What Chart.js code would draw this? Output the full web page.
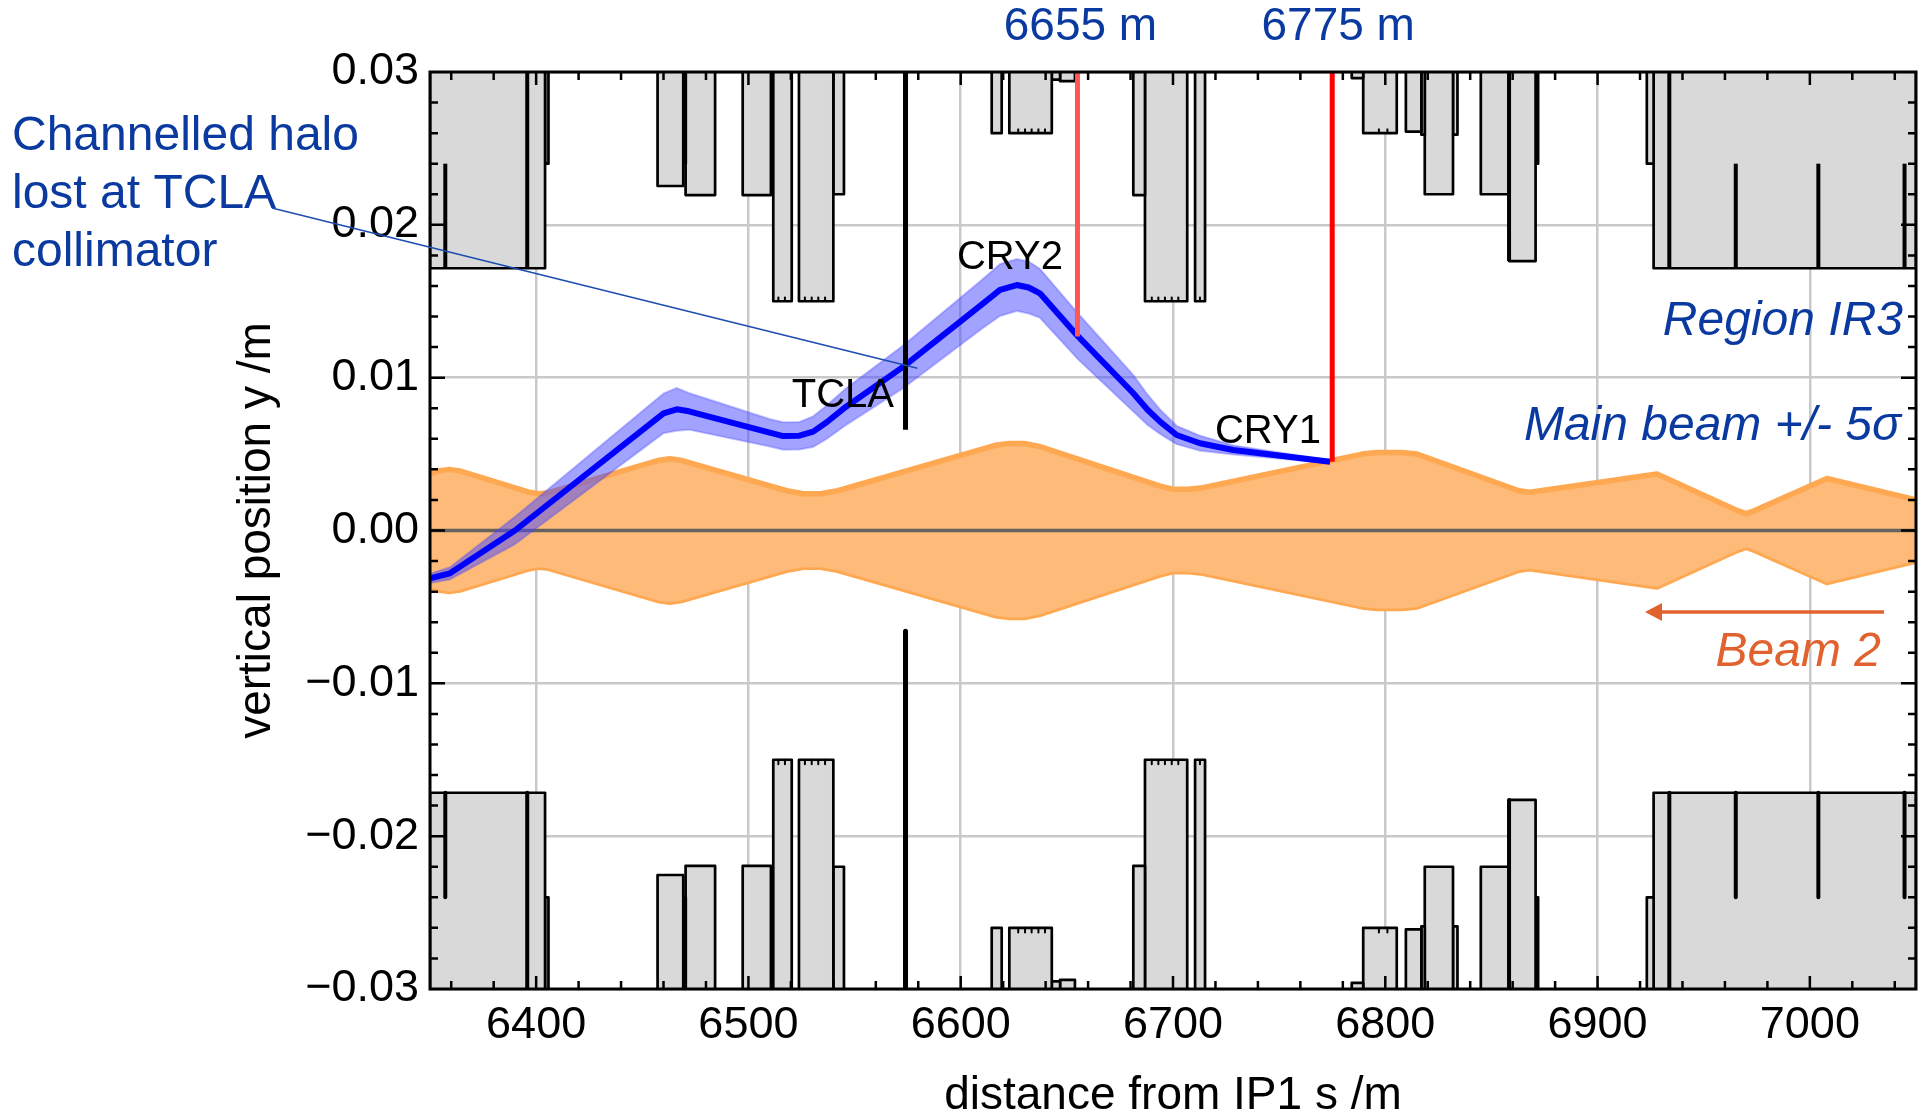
<!DOCTYPE html>
<html><head><meta charset="utf-8">
<script src="https://cdn.jsdelivr.net/npm/chart.js@4.4.1/dist/chart.umd.min.js"></script>
<style>html,body{margin:0;padding:0;background:#fff;}#wrap{width:1919px;height:1117px;position:relative;}</style>
</head><body><div id="wrap"><canvas id="c" width="1919" height="1117"></canvas></div>
<script>
// ---- tick labels ----
const xTicks = [6400, 6500, 6600, 6700, 6800, 6900, 7000];
const yTicks = [-0.03, -0.02, -0.01, 0, 0.01, 0.02, 0.03];

// ---- machine aperture elements (symmetric, half-height in m) ----
const apStart = [6350, 6404.2, 6457.2, 6469.3, 6470.4, 6497.3, 6511.7, 6523.8, 6540.0, 6614.6, 6622.9, 6642.9, 6646.8, 6681.3, 6686.8, 6710.4, 6784.2, 6789.6, 6809.7, 6817.0, 6818.6, 6831.9, 6845.0, 6858.3, 6870.8, 6923.2, 6926.4];
const apEnd   = [6404.2, 6405.8, 6469.3, 6470.5, 6484.3, 6510.6, 6520.4, 6540.0, 6545.0, 6619.3, 6642.9, 6646.8, 6653.8, 6686.8, 6706.7, 6715.1, 6789.6, 6805.4, 6817.0, 6818.6, 6831.9, 6834.0, 6858.3, 6870.8, 6872.0, 6926.4, 7050];
const apHalf  = [0.01716, 0.0240, 0.02254, 0.0240, 0.02195, 0.02195, 0.0150, 0.0150, 0.0220, 0.0260, 0.0260, 0.0295, 0.0294, 0.02195, 0.0150, 0.0150, 0.0296, 0.0260, 0.0261, 0.0259, 0.0220, 0.0259, 0.0220, 0.01763, 0.0240, 0.0240, 0.01716];
// element boundary lines inside the aperture blocks
const sepS     = [6357.2, 6395.8, 6858.3, 6933.8, 6965.1, 7004.0, 7044.6];
const sepInner = [0.01716, 0.01716, 0.01763, 0.01716, 0.01716, 0.01716, 0.01716];
const sepOuter = [0.0240, 0.03, 0.03, 0.03, 0.0240, 0.0240, 0.0240];
// short marks of sub-elements along some aperture edges
const markS  = [6514.1, 6517.2, 6526.6, 6529.8, 6532.9, 6536.1, 6627.1, 6630.3, 6633.4, 6636.6, 6639.7, 6690.0, 6693.1, 6696.2, 6699.4, 6702.5, 6712.7, 6797.0, 6801.0];
const markAp = [0.0150, 0.0150, 0.0150, 0.0150, 0.0150, 0.0150, 0.0260, 0.0260, 0.0260, 0.0260, 0.0260, 0.0150, 0.0150, 0.0150, 0.0150, 0.0150, 0.0150, 0.0260, 0.0260];

// ---- Beam 2 envelope (+/- 5 sigma half-height) ----
const envS    = [6350, 6354, 6359, 6364, 6397, 6401, 6405, 6458, 6463, 6468, 6518, 6526, 6534, 6542, 6617, 6623, 6630, 6637, 6694, 6700, 6707, 6714, 6789, 6796, 6808, 6815, 6863, 6868, 6873, 6928, 6966, 6970, 6974, 7008, 7050];
const envHalf = [0.0037, 0.0039, 0.0040, 0.0039, 0.0025, 0.0024, 0.00245, 0.0046, 0.0047, 0.0046, 0.0026, 0.0024, 0.0024, 0.0026, 0.0056, 0.0057, 0.0057, 0.0055, 0.0029, 0.0027, 0.0027, 0.0028, 0.0050, 0.0051, 0.0051, 0.0050, 0.0026, 0.0025, 0.0026, 0.0037, 0.0013, 0.0011, 0.0013, 0.0034, 0.0020];

// ---- channelled halo trajectory ----
const haloS    = [6350, 6359.4, 6390, 6460, 6466.2, 6472, 6510, 6516.4, 6524, 6530.5, 6537, 6546, 6573, 6610, 6618.5, 6626.4, 6632, 6637.3, 6655.4, 6681.3, 6688, 6693.9, 6701.7, 6712.7, 6728.4, 6774];
const haloY    = [-0.00313, -0.0028, 0.0000, 0.00767, 0.00793, 0.0078, 0.0064, 0.00618, 0.0062, 0.00647, 0.0071, 0.0081, 0.01072, 0.0148, 0.01574, 0.01606, 0.0159, 0.01552, 0.01268, 0.00898, 0.0079, 0.00712, 0.00625, 0.00571, 0.00527, 0.0045];
const haloHalf = [0.0003, 0.0004, 0.0009, 0.0013, 0.0014, 0.0012, 0.0009, 0.0009, 0.0009, 0.0010, 0.0011, 0.0012, 0.0014, 0.0016, 0.0017, 0.0017, 0.0017, 0.0016, 0.0015, 0.0012, 0.0010, 0.0008, 0.0006, 0.0005, 0.0003, 0.0001];

// ---- collimators / crystals ----
const tclaS = 6574, tclaJaw = 0.0066;
const cry2S = 6655, cry2Y = 0.0127;
const cry1S = 6775, cry1Y = 0.0045;
const yTop = 0.03;

const FONT = '"Liberation Sans", Arial, Helvetica, sans-serif';
const BLUE_TXT = '#0a3aa0';

const datasets = [];
// aperture blocks
for (let i = 0; i < apStart.length; i++) {
  const s1 = apStart[i], s2 = apEnd[i], a = apHalf[i];
  for (const sg of [1, -1]) {
    datasets.push({data: [{x: s1, y: sg * yTop}, {x: s1, y: sg * a}, {x: s2, y: sg * a}, {x: s2, y: sg * yTop}],
      fill: sg > 0 ? 'end' : 'start', backgroundColor: '#d9d9d9', borderColor: '#000', borderWidth: 2.7, order: 20});
  }
}
for (let i = 0; i < sepS.length; i++) {
  for (const sg of [1, -1]) {
    datasets.push({data: [{x: sepS[i], y: sg * sepInner[i]}, {x: sepS[i], y: sg * sepOuter[i]}],
      fill: false, borderColor: '#000', borderWidth: 4, order: 19});
  }
}
for (let i = 0; i < markS.length; i++) {
  for (const sg of [1, -1]) {
    datasets.push({data: [{x: markS[i], y: sg * markAp[i]}, {x: markS[i], y: sg * (markAp[i] + 0.0003)}],
      fill: false, borderColor: '#000', borderWidth: 2, borderCapStyle: 'butt', order: 19});
  }
}
// beam 2 envelope
datasets.push({data: envS.map((s, i) => ({x: s, y: envHalf[i]})), fill: '+1', backgroundColor: '#fdba78', borderColor: '#ffa852', borderWidth: 5.5, order: 15});
datasets.push({data: envS.map((s, i) => ({x: s, y: -envHalf[i]})), fill: false, borderColor: '#ffa852', borderWidth: 5.5, order: 15});
// axis line at zero
datasets.push({data: [{x: 6350, y: 0}, {x: 7050, y: 0}], fill: false, borderColor: '#66625e', borderWidth: 3.5, order: 14});
// halo band
datasets.push({data: haloS.map((s, i) => ({x: s, y: haloY[i] + haloHalf[i]})), fill: '+1', backgroundColor: 'rgba(70,70,255,0.5)', borderColor: 'rgba(70,70,255,0.3)', borderWidth: 2, order: 12});
datasets.push({data: haloS.map((s, i) => ({x: s, y: haloY[i] - haloHalf[i]})), fill: false, borderColor: 'rgba(70,70,255,0.3)', borderWidth: 2, order: 12});
// halo centre
datasets.push({data: haloS.map((s, i) => ({x: s, y: haloY[i]})), fill: false, borderColor: '#0000ff', borderWidth: 6, order: 11});
// TCLA jaws
datasets.push({data: [{x: tclaS, y: tclaJaw}, {x: tclaS, y: yTop}], fill: false, borderColor: '#000', borderWidth: 5, borderCapStyle: 'butt', order: 10});
datasets.push({data: [{x: tclaS, y: -tclaJaw}, {x: tclaS, y: -yTop}], fill: false, borderColor: '#000', borderWidth: 5, borderCapStyle: 'butt', order: 10});
// crystal markers
datasets.push({data: [{x: cry2S, y: cry2Y}, {x: cry2S, y: yTop}], fill: false, borderColor: '#ff5555', borderWidth: 5, borderCapStyle: 'butt', order: 9});
datasets.push({data: [{x: cry1S, y: cry1Y}, {x: cry1S, y: yTop}], fill: false, borderColor: '#ff0000', borderWidth: 5, borderCapStyle: 'butt', order: 9});

const decor = {
  id: 'decor',
  afterDatasetsDraw(chart) {
    const {ctx, chartArea: a, scales: {x, y}} = chart;
    ctx.save();
    ctx.strokeStyle = '#000';
    ctx.lineWidth = 2.5;
    ctx.beginPath();
    for (let v = 6360; v <= 7040; v += 20) {
      const px = x.getPixelForValue(v);
      const L = (v % 100 === 0) ? 13 : 8;
      ctx.moveTo(px, a.bottom); ctx.lineTo(px, a.bottom - L);
      ctx.moveTo(px, a.top); ctx.lineTo(px, a.top + L);
    }
    for (let k = -14; k <= 14; k++) {
      const py = y.getPixelForValue(k * 0.002);
      const L = (k % 5 === 0) ? 15 : 8;
      ctx.moveTo(a.left, py); ctx.lineTo(a.left + L, py);
      ctx.moveTo(a.right, py); ctx.lineTo(a.right - L, py);
    }
    ctx.stroke();
    ctx.lineWidth = 3;
    ctx.strokeRect(a.left, a.top, a.right - a.left, a.bottom - a.top);
    ctx.restore();
  },
  afterDraw(chart) {
    const {ctx, scales: {x, y}} = chart;
    ctx.save();
    ctx.textBaseline = 'middle';
    // annotation
    ctx.fillStyle = BLUE_TXT;
    ctx.font = '48px ' + FONT;
    ctx.textAlign = 'left';
    ctx.fillText('Channelled halo', 12, 137);
    ctx.fillText('lost at TCLA', 12, 195);
    ctx.fillText('collimator', 12, 253);
    ctx.strokeStyle = '#1d4db0';
    ctx.lineWidth = 1.5;
    ctx.beginPath();
    ctx.moveTo(272, 208);
    ctx.lineTo(x.getPixelForValue(6579.6), y.getPixelForValue(0.01061));
    ctx.stroke();
    // element labels
    ctx.fillStyle = '#000';
    ctx.font = '40px ' + FONT;
    ctx.textAlign = 'center';
    ctx.fillText('CRY2', x.getPixelForValue(6623.2), y.getPixelForValue(0.01786));
    ctx.fillText('TCLA', x.getPixelForValue(6544.5), y.getPixelForValue(0.00878));
    ctx.fillText('CRY1', x.getPixelForValue(6744.7), y.getPixelForValue(0.00642));
    // positions above
    ctx.fillStyle = BLUE_TXT;
    ctx.font = '46px ' + FONT;
    ctx.fillText('6655 m', x.getPixelForValue(cry2S) + 3, 27);
    ctx.fillText('6775 m', x.getPixelForValue(cry1S) + 6, 27);
    // italic labels
    ctx.textAlign = 'right';
    ctx.font = 'italic 48px ' + FONT;
    ctx.fillText('Region IR3', 1903, 322);
    ctx.fillText('Main beam +/- 5\u03c3', 1901, 427);
    ctx.fillStyle = '#e2622f';
    ctx.fillText('Beam 2', 1881, 653);
    // arrow
    ctx.strokeStyle = '#e2622f';
    ctx.lineWidth = 3.5;
    ctx.beginPath();
    ctx.moveTo(1884, 612); ctx.lineTo(1660, 612);
    ctx.stroke();
    ctx.beginPath();
    ctx.moveTo(1645, 612); ctx.lineTo(1662, 603); ctx.lineTo(1662, 621); ctx.closePath();
    ctx.fill();
    ctx.restore();
  }
};

new Chart(document.getElementById('c'), {
  type: 'line',
  data: {datasets},
  options: {
    responsive: false, animation: false, devicePixelRatio: 1,
    layout: {padding: {top: 72, right: 3, left: 0, bottom: 0}},
    plugins: {legend: {display: false}, tooltip: {enabled: false}},
    elements: {point: {radius: 0, hoverRadius: 0}, line: {tension: 0, borderJoinStyle: 'round'}},
    scales: {
      x: {
        type: 'linear', min: 6350, max: 7050,
        afterBuildTicks: s => { s.ticks = xTicks.map(v => ({value: v})); },
        afterFit: s => { s.height = 128; },
        grid: {color: '#c9c9c9', lineWidth: 2.5, drawTicks: false},
        border: {display: false},
        ticks: {padding: 10, color: '#000', font: {family: FONT, size: 45}, maxRotation: 0, autoSkip: false, callback: v => String(v)},
        title: {display: true, text: 'distance from IP1 s /m', color: '#000', font: {family: FONT, size: 46, lineHeight: 0.9}, padding: {top: 0, bottom: 0}}
      },
      y: {
        type: 'linear', min: -0.03, max: 0.03,
        afterBuildTicks: s => { s.ticks = yTicks.map(v => ({value: v})); },
        afterFit: s => { s.width = 430; },
        grid: {color: '#c9c9c9', lineWidth: 2.5, drawTicks: false},
        border: {display: false},
        ticks: {padding: 11, color: '#000', font: {family: FONT, size: 45}, autoSkip: false, callback: v => (v < -1e-9 ? '\u2212' : '') + Math.abs(v).toFixed(2)},
        title: {display: true, text: 'vertical position y /m', color: '#000', font: {family: FONT, size: 46, lineHeight: 1}, padding: {top: 234, bottom: 0}}
      }
    }
  },
  plugins: [decor]
});
</script>
</body></html>
